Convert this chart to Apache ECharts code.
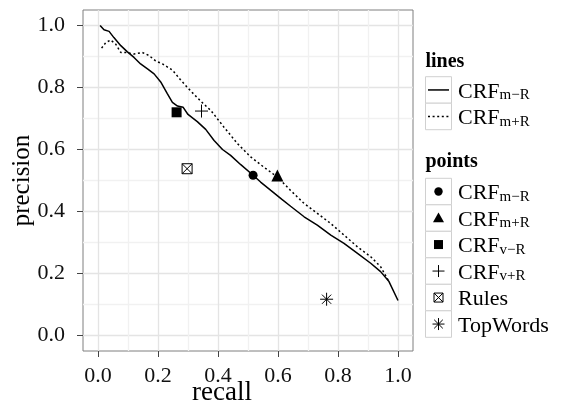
<!DOCTYPE html>
<html><head><meta charset="utf-8">
<script src="https://cdn.jsdelivr.net/npm/echarts@6/dist/echarts.min.js"></script>
<style>html,body{margin:0;padding:0;background:#fff}#c{width:563px;height:407px}</style>
</head><body><div id="c"></div>
<script>
// ---- data ----
const tickValues = [0, 0.2, 0.4, 0.6, 0.8, 1.0];
const xTitle = 'recall';
const yTitle = 'precision';

const lineBase = ['CRF', 'CRF'];
const lineSub = ['m\u2212R', 'm+R'];

const solidRecall = [0.007, 0.02, 0.037, 0.053, 0.076, 0.098, 0.12, 0.142, 0.165, 0.187, 0.209, 0.231, 0.248, 0.265, 0.284, 0.3, 0.331, 0.359, 0.387, 0.415, 0.442, 0.476, 0.517, 0.542, 0.576, 0.612, 0.642, 0.687, 0.731, 0.776, 0.82, 0.865, 0.909, 0.942, 0.97, 1.0];
const solidPrecision = [1.0, 0.986, 0.981, 0.961, 0.935, 0.915, 0.897, 0.876, 0.86, 0.844, 0.818, 0.78, 0.752, 0.74, 0.736, 0.713, 0.69, 0.665, 0.629, 0.6, 0.581, 0.551, 0.517, 0.495, 0.468, 0.44, 0.417, 0.383, 0.356, 0.324, 0.297, 0.265, 0.233, 0.206, 0.174, 0.113];

const dottedRecall = [0.012, 0.026, 0.042, 0.059, 0.076, 0.092, 0.12, 0.148, 0.17, 0.192, 0.215, 0.248, 0.274, 0.298, 0.32, 0.35, 0.376, 0.42, 0.465, 0.509, 0.553, 0.598, 0.642, 0.687, 0.731, 0.776, 0.82, 0.865, 0.909, 0.942, 0.967];
const dottedPrecision = [0.927, 0.945, 0.953, 0.94, 0.913, 0.913, 0.908, 0.913, 0.903, 0.886, 0.876, 0.856, 0.826, 0.80, 0.778, 0.749, 0.726, 0.672, 0.619, 0.576, 0.543, 0.511, 0.468, 0.426, 0.394, 0.361, 0.324, 0.286, 0.254, 0.222, 0.179];

const pointBase = ['CRF', 'CRF', 'CRF', 'CRF', 'Rules', 'TopWords'];
const pointSub = ['m\u2212R', 'm+R', 'v\u2212R', 'v+R', '', ''];
const pointRecall = [0.517, 0.598, 0.262, 0.345, 0.297, 0.762];
const pointPrecision = [0.517, 0.516, 0.72, 0.724, 0.538, 0.117];

// ---- styling ----
const FONT = '"Liberation Serif", "DejaVu Serif", serif';
const MAJOR = '#e4e4e4', MINOR = '#f1f1f1';

const symPlus = 'path://M0,5L10,5M5,0L5,10';
const symRules = 'path://M0,0L10,0L10,10L0,10ZM0,0L10,10M10,0L0,10';
const symStar = 'path://M5,0L5,10M0,5L10,5M1.46,1.46L8.54,8.54M8.54,1.46L1.46,8.54';
const pointSymbols = [
  {symbol: 'circle', size: 9, fill: '#000', stroke: null},
  {symbol: 'triangle', size: 12, fill: '#000', stroke: null},
  {symbol: 'rect', size: 10, fill: '#000', stroke: null},
  {symbol: symPlus, size: 13, fill: 'rgba(0,0,0,0)', stroke: '#000'},
  {symbol: symRules, size: 10, fill: '#fff', stroke: '#000'},
  {symbol: symStar, size: 13, fill: 'rgba(0,0,0,0)', stroke: '#000'}
];

function zip(a, b) { return a.map((v, i) => [v, b[i]]); }

const series = [
  {type: 'line', name: lineBase[0] + lineSub[0], xAxisIndex: 0, yAxisIndex: 0,
   data: zip(solidRecall, solidPrecision), showSymbol: false, symbol: 'none',
   lineStyle: {color: '#000', width: 1.5}, z: 3},
  {type: 'line', name: lineBase[1] + lineSub[1], xAxisIndex: 0, yAxisIndex: 0,
   data: zip(dottedRecall, dottedPrecision), showSymbol: false, symbol: 'none',
   lineStyle: {color: '#000', width: 1.5, type: [2, 2.6]}, z: 3}
];
pointBase.forEach((b, i) => {
  const s = pointSymbols[i];
  series.push({
    type: 'scatter', name: b + pointSub[i], xAxisIndex: 0, yAxisIndex: 0,
    data: [[pointRecall[i], pointPrecision[i]]],
    symbol: s.symbol, symbolSize: s.size,
    itemStyle: {color: s.fill, borderColor: s.stroke || s.fill, borderWidth: s.stroke ? 1 : 0, opacity: 1},
    z: 4
  });
});

// ---- legend (drawn) ----
const graphic = [];
const KX = 425.5, KW = 26, KH = 26.5, TX = 458;
const rich = {
  a: {fontFamily: FONT, fontSize: 22, lineHeight: 26, verticalAlign: 'bottom', color: '#000'},
  b: {fontFamily: FONT, fontSize: 15, lineHeight: 13, verticalAlign: 'bottom', color: '#000'}
};
function labelText(base, sub) { return sub ? '{a|' + base + '}{b|' + sub + '}' : '{a|' + base + '}'; }
function title(txt, y) {
  graphic.push({type: 'text', x: KX, y: y, silent: true,
    style: {text: txt, fontFamily: FONT, fontSize: 20, fontWeight: 'bold', fill: '#000', verticalAlign: 'middle', align: 'left'}});
}
function box(top) {
  graphic.push({type: 'rect', silent: true, shape: {x: KX, y: top, width: KW, height: KH},
    style: {fill: '#fff', stroke: '#d0d0d0', lineWidth: 1}});
}
function label(base, sub, cy) {
  graphic.push({type: 'text', x: TX, y: cy, silent: true,
    style: {text: labelText(base, sub), rich: rich, verticalAlign: 'middle', align: 'left'}});
}
title('lines', 61.5);
const lineTop0 = 76.7;
lineBase.forEach((b, i) => {
  const top = lineTop0 + i * KH, cy = top + KH / 2;
  box(top);
  graphic.push({type: 'line', silent: true, shape: {x1: KX + 2.5, y1: cy, x2: KX + KW - 2.5, y2: cy},
    style: {stroke: '#000', lineWidth: 1.5, lineDash: i === 1 ? [2, 2.6] : null}});
  label(b, lineSub[i], cy);
});
title('points', 161.5);
const pointTop0 = 178.3;
const cxk = KX + KW / 2;
pointBase.forEach((b, i) => {
  const top = pointTop0 + i * KH, cy = top + KH / 2;
  box(top);
  const st = {fill: '#000'};
  const sk = {fill: 'none', stroke: '#000', lineWidth: 1};
  if (i === 0) graphic.push({type: 'circle', silent: true, shape: {cx: cxk, cy: cy, r: 4.2}, style: st});
  if (i === 1) graphic.push({type: 'polygon', silent: true, shape: {points: [[cxk, cy - 5.5], [cxk + 5.5, cy + 4.2], [cxk - 5.5, cy + 4.2]]}, style: st});
  if (i === 2) graphic.push({type: 'rect', silent: true, shape: {x: cxk - 4.5, y: cy - 4.5, width: 9, height: 9}, style: st});
  if (i === 3) {
    graphic.push({type: 'line', silent: true, shape: {x1: cxk - 6, y1: cy, x2: cxk + 6, y2: cy}, style: sk});
    graphic.push({type: 'line', silent: true, shape: {x1: cxk, y1: cy - 6, x2: cxk, y2: cy + 6}, style: sk});
  }
  if (i === 4) {
    graphic.push({type: 'rect', silent: true, shape: {x: cxk - 4.5, y: cy - 4.5, width: 9, height: 9}, style: sk});
    graphic.push({type: 'line', silent: true, shape: {x1: cxk - 4.5, y1: cy - 4.5, x2: cxk + 4.5, y2: cy + 4.5}, style: sk});
    graphic.push({type: 'line', silent: true, shape: {x1: cxk + 4.5, y1: cy - 4.5, x2: cxk - 4.5, y2: cy + 4.5}, style: sk});
  }
  if (i === 5) {
    const r = 6, d = 4.3;
    [[-r, 0, r, 0], [0, -r, 0, r], [-d, -d, d, d], [d, -d, -d, d]].forEach(q => {
      graphic.push({type: 'line', silent: true, shape: {x1: cxk + q[0], y1: cy + q[1], x2: cxk + q[2], y2: cy + q[3]}, style: sk});
    });
  }
  label(b, pointSub[i], cy);
});

// ---- axes ----
const panelAxis = (extra) => Object.assign({
  type: 'value', min: -0.05, max: 1.05, interval: 0.05,
  axisLine: {show: false}, axisTick: {show: false}, axisLabel: {show: false},
  splitLine: {show: true, lineStyle: {color: ['rgba(0,0,0,0)', MAJOR, 'rgba(0,0,0,0)', MINOR], width: 1.3}}
}, extra);
const tickAxis = (extra) => Object.assign({
  type: 'value', min: tickValues[0], max: tickValues[tickValues.length - 1], interval: 0.2,
  axisLine: {show: false, onZero: false},
  axisTick: {show: true, length: 6, lineStyle: {color: '#444', width: 1}},
  splitLine: {show: false},
  nameLocation: 'middle',
  nameMoveOverlap: false
}, extra);

const option = {
  animation: false,
  backgroundColor: '#fff',
  grid: [
    {left: 83, top: 10, width: 330, height: 341, show: true, borderColor: '#7f7f7f', borderWidth: 1,
     backgroundColor: 'rgba(0,0,0,0)', containLabel: false, outerBoundsMode: 'none'},
    {left: 98, top: 25.5, width: 300, height: 310, show: false, containLabel: false, outerBoundsMode: 'none'}
  ],
  xAxis: [
    panelAxis({gridIndex: 0}),
    tickAxis({gridIndex: 1, position: 'bottom', offset: 15.5,
      axisLabel: {fontFamily: FONT, fontSize: 22, color: '#111', margin: 14, formatter: v => v.toFixed(1)},
      name: xTitle, nameGap: 28,
      nameTextStyle: {fontFamily: FONT, fontSize: 27, color: '#000', padding: [0, 52, 0, 0]}})
  ],
  yAxis: [
    panelAxis({gridIndex: 0}),
    tickAxis({gridIndex: 1, position: 'left', offset: 15,
      axisLabel: {fontFamily: FONT, fontSize: 22, color: '#111', margin: 18, formatter: v => v.toFixed(1)},
      name: yTitle, nameGap: 48,
      nameTextStyle: {fontFamily: FONT, fontSize: 25, color: '#000'}})
  ],
  series: series,
  graphic: graphic
};

const chart = echarts.init(document.getElementById('c'), null, {renderer: 'canvas'});
chart.setOption(option);
</script>
</body></html>
